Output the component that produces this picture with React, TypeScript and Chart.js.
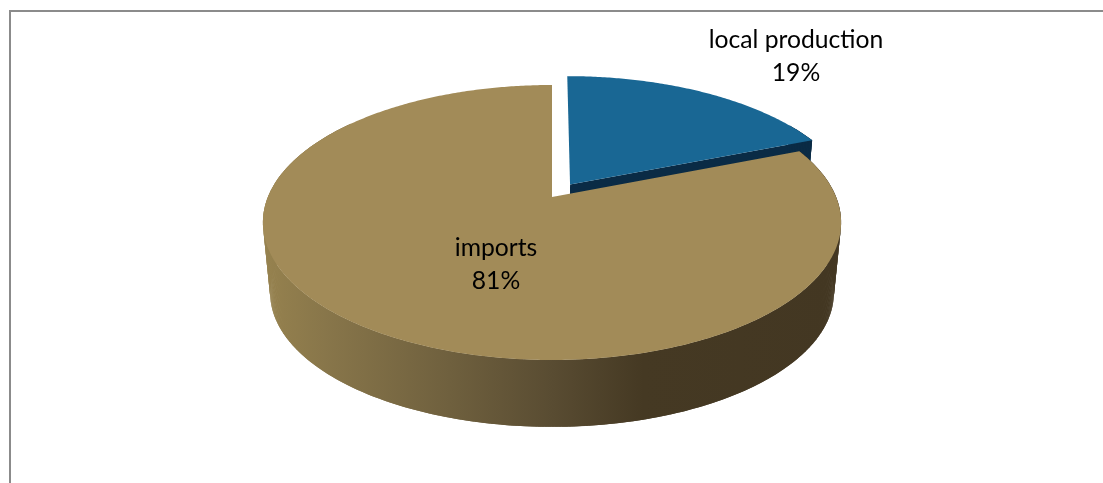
import React, { useEffect, useRef } from "react";
import { Chart, ArcElement, PieController } from "chart.js";

// Chart content
const categories = ["local production", "imports"];
const shares = [19, 81];
const sliceColors = ["#196794", "#a28b58"];
const wallColors = ["#0a2b45", "#433722"];
const explode = [0.115, 0];

// Side wall shading, left to right across the pie
const wallStops: [number, string][] = [
  [0, "#95814e"],
  [0.1, "#88764a"],
  [0.32, "#6f603e"],
  [0.5, "#594c32"],
  [0.66, "#453923"],
  [1, "#433722"],
];

// Tilted-disc camera, expressed relative to the pie's outer radius
const STRETCH_X = 1.442;
const STRETCH_Y = 0.674;
const NEAR_GROW = 0.1855;
const WALL_SCALE = 0.975;
const WALL_DROP = 0.36;
// Rim sections further back than this are hidden behind the upper face
const BACK_RIM_LIMIT = -0.6;

type Pt = [number, number];

// A pie slice seen on a tilted disc with a visible rim; the start and end
// angles and the radius all come from the pie controller.
class TiltedArc extends ArcElement {
  static id = "tiltedArc";

  draw(ctx: CanvasRenderingContext2D) {
    const self = this as any;
    const { x, y, outerRadius: R, startAngle, endAngle } = self;
    const index = self.$context?.dataIndex ?? 0;
    const mid = (startAngle + endAngle) / 2;
    const shift = self.$context?.dataset?.explode?.[index] ?? 0;
    const du = Math.cos(mid) * shift;
    const dv = Math.sin(mid) * shift;

    const project = (u: number, v: number, lower: boolean): Pt => {
      const d = 1 - NEAR_GROW * v;
      const s = lower ? WALL_SCALE : 1;
      return [
        x + (s * STRETCH_X * R * u) / d,
        y + (lower ? WALL_DROP * R : 0) + (s * STRETCH_Y * R * v) / d,
      ];
    };

    const steps = Math.max(2, Math.ceil((endAngle - startAngle) / 0.01));
    const angleAt = (i: number) => startAngle + ((endAngle - startAngle) * i) / steps;
    const rimAt = (i: number, lower: boolean) =>
      project(Math.cos(angleAt(i)) + du, Math.sin(angleAt(i)) + dv, lower);

    const fillPath = (pts: Pt[], fill: string | CanvasGradient) => {
      ctx.beginPath();
      pts.forEach((p, i) => (i ? ctx.lineTo(p[0], p[1]) : ctx.moveTo(p[0], p[1])));
      ctx.closePath();
      ctx.fillStyle = fill;
      ctx.fill();
    };

    const apexTop = project(du, dv, false);
    const apexLow = project(du, dv, true);

    let wall: string | CanvasGradient = wallColors[index];
    if (index === 1) {
      const g = ctx.createLinearGradient(x - STRETCH_X * R, 0, x + STRETCH_X * R, 0);
      wallStops.forEach(([o, c]) => g.addColorStop(o, c));
      wall = g;
    }

    // cut face at the clockwise end, then the rim in overlapping sections
    fillPath([apexTop, rimAt(steps, false), rimAt(steps, true), apexLow], wall);
    for (let i = 0; i < steps; i++) {
      if (Math.sin(angleAt(i)) + dv < BACK_RIM_LIMIT) continue;
      const j = Math.min(i + 2, steps);
      fillPath([rimAt(i, false), rimAt(j, false), rimAt(j, true), rimAt(i, true)], wall);
    }

    // upper face over the walls
    const face: Pt[] = [apexTop];
    for (let i = 0; i <= steps; i++) face.push(rimAt(i, false));
    fillPath(face, self.options.backgroundColor);
  }
}

class TiltedPieController extends PieController {
  static id = "tiltedPie";
  static defaults = { ...PieController.defaults, dataElementType: "tiltedArc" };
  static overrides = PieController.overrides;
}

Chart.register(TiltedArc as any, TiltedPieController as any);

const labelPositions: Pt[] = [
  [796, 48],
  [496, 256],
];

const framePlugin = {
  id: "frame",
  beforeDraw(chart: Chart) {
    const { ctx } = chart;
    ctx.save();
    ctx.fillStyle = "#ffffff";
    ctx.fillRect(0, 0, chart.width, chart.height);
    ctx.fillStyle = "#8b8b8b";
    ctx.fillRect(9, 10, chart.width - 9, 2);
    ctx.fillRect(9, 10, 2, chart.height - 10);
    ctx.restore();
  },
};

const sliceLabelPlugin = {
  id: "sliceLabels",
  afterDraw(chart: Chart) {
    const { ctx } = chart;
    ctx.save();
    ctx.fillStyle = "#000000";
    ctx.font = '24.7px "Lato"';
    ctx.textAlign = "center";
    ctx.textBaseline = "alphabetic";
    categories.forEach((name, i) => {
      const [lx, ly] = labelPositions[i];
      ctx.fillText(name, lx, ly);
      ctx.fillText(`${shares[i]}%`, lx, ly + 33);
    });
    ctx.restore();
  },
};

export default function App() {
  const ref = useRef<HTMLCanvasElement>(null);

  useEffect(() => {
    if (!ref.current) return;
    const chart = new Chart(ref.current, {
      type: "tiltedPie" as any,
      data: {
        labels: categories,
        datasets: [
          {
            data: shares,
            backgroundColor: sliceColors,
            borderWidth: 0,
            explode,
          } as any,
        ],
      },
      options: {
        responsive: false,
        animation: false,
        events: [],
        layout: { padding: { left: 1, right: 0, top: 0, bottom: 89 } },
        plugins: { legend: { display: false }, tooltip: { enabled: false } },
      },
      plugins: [framePlugin, sliceLabelPlugin],
    });
    return () => chart.destroy();
  }, []);

  return (
    <div style={{ position: "fixed", left: 0, top: 0, width: 1103, height: 483 }}>
      <canvas ref={ref} width={1103} height={483} style={{ display: "block" }} />
    </div>
  );
}
